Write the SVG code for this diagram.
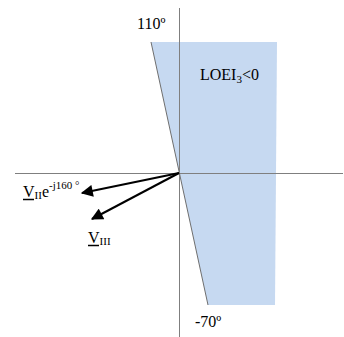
<svg xmlns="http://www.w3.org/2000/svg" width="344" height="337" viewBox="0 0 344 337">
<style>
text{font-family:"Liberation Serif","Times New Roman",serif;fill:#000}
.lbl{font-size:16px}
.sub{font-size:11px}
.axis{stroke:#7f7f7f;stroke-width:1;fill:none}
.vec{stroke:#000;stroke-width:2;fill:none}
</style>
<defs>
<marker id="ah" viewBox="0 0 10 10" refX="9" refY="5" markerWidth="6.5" markerHeight="6" orient="auto" markerUnits="strokeWidth">
<path d="M0,0 L10,5 L0,10 Z" fill="#000"/>
</marker>
</defs>
<g id="region">
<polygon points="151,42 277,42 275,305 208,305" fill="#c6d9f1"/>
<line x1="151" y1="42" x2="208" y2="305" stroke="#6f6f6f" stroke-width="1"/>
</g>
<g id="axes">
<line class="axis" x1="179.5" y1="8" x2="179.5" y2="337"/>
<line class="axis" x1="15" y1="173.5" x2="343" y2="173.5"/>
</g>
<g id="connectors">
<line class="vec" x1="179" y1="173" x2="82" y2="193" marker-end="url(#ah)"/>
<line class="vec" x1="179" y1="173" x2="92" y2="219" marker-end="url(#ah)"/>
</g>
<g id="label-110">
<text class="lbl" x="137" y="29">110º</text>
</g>
<g id="label-loei">
<text class="lbl" x="200" y="80">LOEI<tspan class="sub" dy="3">3</tspan><tspan dy="-3">&lt;0</tspan></text>
</g>
<g id="label-70">
<text class="lbl" x="195" y="327">-70º</text>
</g>
<g id="label-vii">
<text class="lbl" x="23" y="197">V<tspan class="sub" dy="2">II</tspan><tspan dy="-2">e</tspan><tspan class="sub" dy="-8">-j160 °</tspan></text>
<line x1="23" y1="199.5" x2="34" y2="199.5" stroke="#000" stroke-width="1.5"/>
</g>
<g id="label-viii">
<text class="lbl" x="88" y="243">V<tspan class="sub" dy="2">III</tspan></text>
<line x1="88" y1="245.5" x2="99" y2="245.5" stroke="#000" stroke-width="1.5"/>
</g>
</svg>
